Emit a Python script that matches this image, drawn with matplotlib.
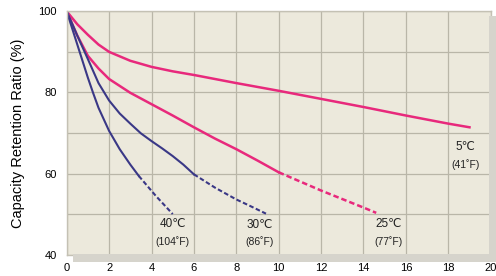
import matplotlib
matplotlib.use("Agg")
import matplotlib.pyplot as plt
from matplotlib.patches import Rectangle

plt.rcParams['font.family'] = ['Liberation Sans', 'DejaVu Sans']

# storage months vs capacity retention (%)
x_5c = [0, 0.5, 1, 1.5, 2, 3, 4, 5, 6, 8, 10, 12, 14, 16, 18, 19]
y_5c = [100, 96.8, 94.2, 91.8, 90.0, 87.8, 86.3, 85.2, 84.3, 82.3, 80.4, 78.4, 76.4, 74.3, 72.3, 71.4]

x_25c = [0, 0.5, 1, 1.5, 2, 3, 4, 5, 6, 7, 8, 9, 10]
y_25c = [100, 94.0, 89.0, 85.9, 83.3, 79.9, 77.1, 74.3, 71.4, 68.6, 66.0, 63.2, 60.3]
x_25c_ext = [10, 12, 14, 14.6]
y_25c_ext = [60.3, 55.8, 51.6, 50.3]

x_30c = [0, 0.5, 1, 1.5, 2, 2.5, 3, 3.5, 4, 4.5, 5, 5.5, 6]
y_30c = [100, 94.0, 88.2, 82.3, 78.0, 74.8, 72.3, 69.9, 68.0, 66.2, 64.3, 62.2, 59.8]
x_30c_ext = [6, 7, 8, 8.65, 9.4]
y_30c_ext = [59.8, 56.5, 53.6, 52.0, 50.1]

x_40c = [0, 0.5, 1, 1.25, 1.5, 2, 2.5, 3, 3.4]
y_40c = [100, 91.8, 83.6, 79.8, 76.2, 70.5, 66.0, 62.2, 59.4]
x_40c_ext = [3.4, 4.2, 5.0]
y_40c_ext = [59.4, 54.5, 50.0]

labels = [("5\u2103", "(41\u02daF)", 18.8, 66.5),
          ("40\u2103", "(104\u02daF)", 5.0, 47.5),
          ("30\u2103", "(86\u02daF)", 9.1, 47.3),
          ("25\u2103", "(77\u02daF)", 15.2, 47.5)]

PINK = "#e8297c"
NAVY = "#3a3886"
BG = "#ece9dc"
GRID = "#b9b6a8"

fig = plt.figure(figsize=(4.96, 2.76), dpi=100)
ax = fig.add_axes([0.1345, 0.0775, 0.8548, 0.8815])

# drop shadow under and right of the plot area
fig.patches.append(Rectangle((0.147, 0.051), 0.86, 0.03, transform=fig.transFigure,
                             facecolor="#d6d4cc", edgecolor="none", zorder=0))
fig.patches.append(Rectangle((0.985, 0.051), 0.02, 0.89, transform=fig.transFigure,
                             facecolor="#d6d4cc", edgecolor="none", zorder=0))

ax.set_facecolor(BG)
ax.set_xlim(0, 20)
ax.set_ylim(40, 100)
ax.set_xticks(range(0, 21, 2))
ax.set_yticks(range(40, 101, 20))
ax.set_yticks(range(40, 101, 10), minor=True)
ax.grid(True, which="both", color=GRID, lw=0.9)
ax.set_axisbelow(True)
for s in ax.spines.values():
    s.set_color("#c4c1b4")
    s.set_linewidth(1)
ax.tick_params(which="both", length=0)
ax.tick_params(axis="x", pad=6, labelsize=8)
ax.tick_params(axis="y", pad=7, labelsize=8)
ax.set_ylabel("Capacity Retention Ratio (%)", fontsize=10.5, labelpad=10)

ax.plot(x_5c, y_5c, color=PINK, lw=1.8)
ax.plot(x_25c, y_25c, color=PINK, lw=1.8)
ax.plot(x_25c_ext, y_25c_ext, color=PINK, lw=1.8, ls=(0, (2.2, 1.2)))
ax.plot(x_30c, y_30c, color=NAVY, lw=1.5)
ax.plot(x_30c_ext, y_30c_ext, color=NAVY, lw=1.5, ls=(0, (2.2, 1.2)))
ax.plot(x_40c, y_40c, color=NAVY, lw=1.5)
ax.plot(x_40c_ext, y_40c_ext, color=NAVY, lw=1.5, ls=(0, (2.2, 1.2)))

for t1, t2, lx, ly in labels:
    ax.text(lx, ly, t1, ha="center", va="center", fontsize=8.5, color="#222222")
    ax.text(lx, ly - 4.2, t2, ha="center", va="center", fontsize=7.5, color="#222222")

fig.savefig("out.png", dpi=100)
